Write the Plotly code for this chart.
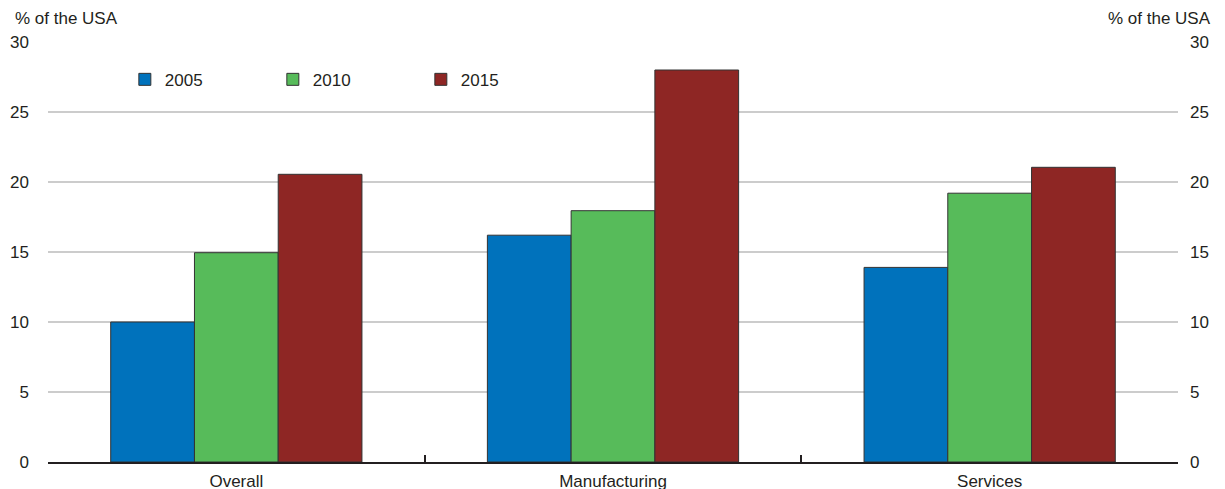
import plotly.graph_objects as go

categories = ["Overall", "Manufacturing", "Services"]
years = ["2005", "2010", "2015"]
values_2005 = [10.0, 16.2, 13.9]
values_2010 = [14.95, 17.95, 19.2]
values_2015 = [20.55, 28.0, 21.05]
colors = ["#0072BC", "#57BB5A", "#8E2624"]
y_ticks = [0, 5, 10, 15, 20, 25, 30]
unit_label = "% of the USA"

FONT = "Liberation Sans, Arial, sans-serif"
TEXT = "#231f20"

fig = go.Figure()
for name, vals, col in zip(years, [values_2005, values_2010, values_2015], colors):
    fig.add_trace(go.Bar(
        x=categories, y=vals, name=name,
        marker=dict(color=col, line=dict(color="#333333", width=1)),
    ))

# dummy trace so the right axis is drawn
fig.add_trace(go.Scatter(x=categories, y=values_2005, yaxis="y2", mode="markers",
                         marker=dict(opacity=0), showlegend=False, hoverinfo="skip"))

# page body has an 8px default margin; margins compensate for it
fig.update_layout(
    width=1225, height=489,
    margin=dict(l=40, r=55, t=34, b=35),
    plot_bgcolor="white", paper_bgcolor="white",
    font=dict(family=FONT, size=17, color=TEXT),
    barmode="group", bargap=0.333, bargroupgap=0,
    showlegend=True,
    legend=dict(orientation="h", x=0.068, xanchor="left", y=0.91, yanchor="middle",
                bgcolor="rgba(0,0,0,0)", font=dict(size=17),
                entrywidth=103, entrywidthmode="pixels", itemclick=False),
    xaxis=dict(
        showline=True, linecolor=TEXT, linewidth=2,
        ticks="inside", tickson="boundaries", ticklen=7, tickwidth=2, tickcolor=TEXT,
        showgrid=False, zeroline=False, tickfont=dict(size=17), ticklabelstandoff=3,
        automargin=False,
    ),
    yaxis=dict(
        range=[0, 30], tickvals=y_ticks, showgrid=True, gridcolor="#cccccc", gridwidth=1.5,
        zeroline=False, showline=False, ticks="", ticklabelstandoff=18,
        tickfont=dict(size=17), automargin=False,
    ),
    yaxis2=dict(
        range=[0, 30], tickvals=y_ticks, overlaying="y", side="right", showgrid=False,
        zeroline=False, showline=False, ticks="", ticklabelstandoff=11,
        tickfont=dict(size=17), automargin=False,
    ),
    annotations=[
        dict(text=unit_label, xref="paper", yref="paper", x=-35/1130, y=1.0, yshift=24,
             xanchor="left", yanchor="middle", showarrow=False, font=dict(size=17)),
        dict(text=unit_label, xref="paper", yref="paper", x=1+35/1130, y=1.0, yshift=24,
             xanchor="right", yanchor="middle", showarrow=False, font=dict(size=17)),
    ],
)

fig.write_html("out.html")
